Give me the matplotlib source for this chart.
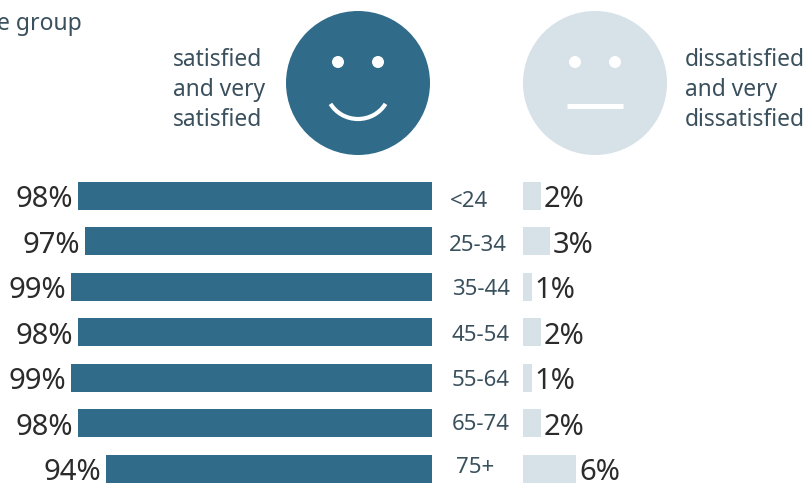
import matplotlib
matplotlib.use("Agg")
import matplotlib.pyplot as plt
from matplotlib.patches import Circle, Arc

age_groups = ["<24", "25-34", "35-44", "45-54", "55-64", "65-74", "75+"]
satisfied = [98, 97, 99, 98, 99, 98, 94]
dissatisfied = [2, 3, 1, 2, 1, 2, 6]
satisfied_caption = "satisfied\nand very\nsatisfied"
dissatisfied_caption = "dissatisfied\nand very\ndissatisfied"
heading = "age group"

W, H = 807, 486
DARK = "#306b8a"
LIGHT = "#d6e1e8"
TEXT = "#3a505c"
NUMBER = "#2b2b2b"
FONT = "Noto Sans"

# Horizontal nudges and vertical baselines for the age labels
age_x = [469, 478, 481, 481, 481, 481, 475]
age_y = [201, 245, 289, 335, 380, 424, 467]

fig = plt.figure(figsize=(W / 100, H / 100), dpi=100, facecolor="white")


def pixel_axes(x0, x1, y0, y1):
    """Axes covering a rectangle given in top-left pixel coordinates."""
    ax = fig.add_axes([x0 / W, 1 - y1 / H, (x1 - x0) / W, (y1 - y0) / H])
    ax.axis("off")
    return ax


# Overlay in pixel units for the faces, captions and age labels
canvas = pixel_axes(0, W, 0, H)
canvas.set_xlim(0, W)
canvas.set_ylim(H, 0)

# Rows sit 45.5 px apart, the first centred at 195.8 px
row_pitch = 45.5
first_row = 195.8
bar_height = 28 / row_pitch
row_limits = ((H - first_row) / row_pitch, -first_row / row_pitch)

# Satisfied bars grow leftwards from a truncated baseline, 7 px per point
baseline = 47.4
left_scale = 7.0
left = pixel_axes(0, 432, 0, H)
left.set_xlim(baseline + 432 / left_scale, baseline)
left.set_ylim(*row_limits)
left.barh(range(len(satisfied)), [v - baseline for v in satisfied],
          left=baseline, height=bar_height, color=DARK)
for i, v in enumerate(satisfied):
    left.annotate(f"{v}%", (v, i), xytext=(-3.4, -3.0), textcoords="offset points",
                  ha="right", va="center", fontsize=21, color=NUMBER,
                  family=FONT, annotation_clip=False)

# Dissatisfied bars grow rightwards from zero
right_scale = 8.9
right = pixel_axes(523, W, 0, H)
right.set_xlim(0, (W - 523) / right_scale)
right.set_ylim(*row_limits)
right.barh(range(len(dissatisfied)), dissatisfied, height=bar_height, color=LIGHT)
for i, v in enumerate(dissatisfied):
    right.annotate(f"{v}%", (v, i), xytext=(2, -3.0), textcoords="offset points",
                   ha="left", va="center", fontsize=21, color=NUMBER,
                   family=FONT, annotation_clip=False)

for label, x, y in zip(age_groups, age_x, age_y):
    canvas.text(x, y, label, ha="center", va="center", fontsize=16,
                color=TEXT, family=FONT)

# Happy face
canvas.add_patch(Circle((358, 83), 72, color=DARK, lw=0))
for ex in (338, 378):
    canvas.add_patch(Circle((ex, 62), 6, color="white", lw=0))
canvas.add_patch(Arc((358, 88), 64, 62, theta1=30, theta2=150, color="white",
                     lw=3, capstyle="butt"))

# Neutral face
canvas.add_patch(Circle((595, 83), 72, color=LIGHT, lw=0))
for ex in (575, 615):
    canvas.add_patch(Circle((ex, 62), 6, color="white", lw=0))
canvas.plot([567, 623], [106, 106], color="white", lw=3.6, solid_capstyle="butt")

caption_style = dict(va="center", ha="left", fontsize=16.4, color=TEXT, family=FONT,
                     linespacing=1.36)
canvas.text(173, 90, satisfied_caption, **caption_style)
canvas.text(685, 90, dissatisfied_caption, **caption_style)
canvas.text(82, 24, heading, ha="right", va="center", fontsize=16.5, color=TEXT,
            family=FONT)

fig.savefig("out.png", dpi=100, facecolor="white")
